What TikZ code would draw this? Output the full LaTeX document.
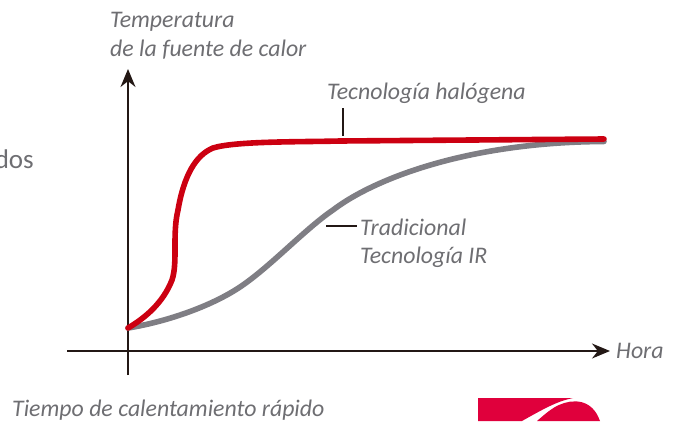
\documentclass[tikz,border=0pt]{standalone}
\usepackage{fontspec}
\setmainfont{Carlito}
\usetikzlibrary{arrows.meta}
\definecolor{axisc}{HTML}{231815}
\definecolor{txtc}{HTML}{6E6E72}
\definecolor{redc}{HTML}{CC0011}
\definecolor{grayc}{HTML}{7F7E84}
\definecolor{logoc}{HTML}{E0003C}
\tikzset{
 lab/.style={anchor=base west,inner sep=0pt,font=\fontsize{23.8}{28}\selectfont\itshape,text=txtc},
 axisl/.style={draw=axisc,line width=1.3pt},
 leader/.style={draw=axisc,line width=1.3pt},
 curve/.style={line width=5.6pt,line cap=round,line join=round}
}
\begin{document}
\begin{tikzpicture}[x=1pt,y=-1pt]
\useasboundingbox (0,0) rectangle (678,421);
\clip (0,0) rectangle (678,421);
% axes
\coordinate (ytop) at (128,69);
\coordinate (ybot) at (128,375);
\coordinate (xleft) at (67,351);
\coordinate (xright) at (610,351);
\draw[axisl,-{Stealth[length=18pt,width=15pt]}] (ybot) -- (ytop);
\draw[axisl,-{Stealth[length=18pt,width=15pt]}] (xleft) -- (xright);
% curves
\coordinate (o) at (128,328);
\coordinate (grayend) at (604,141.5);
\coordinate (redend) at (604,139);
\draw[curve,grayc] (o) .. controls (165,322) and (210,307) .. (240,287)
  .. controls (270,267) and (305,229) .. (333,210)
  .. controls (375,178) and (470,142) .. (grayend);
\draw[curve,redc] (o) .. controls (145,318) and (163,303) .. (172,280)
  .. controls (178,262) and (172,235) .. (178,210)
  .. controls (184,175) and (196,155) .. (213,148)
  .. controls (235,141) and (300,142) .. (340,141)
  -- (redend);
% leaders
\coordinate (l1a) at (343,108);
\coordinate (l1b) at (343,136);
\coordinate (l2a) at (326,226);
\coordinate (l2b) at (357,226);
\draw[leader] (l1a) -- (l1b);
\draw[leader] (l2a) -- (l2b);
% labels
\node[lab] (t1) at (110,27) {Temperatura};
\node[lab] (t2) at (110,56) {de la fuente de calor};
\node[lab] (t3) at (327,99) {Tecnología halógena};
\node[lab] (t4) at (360,235) {Tradicional};
\node[lab] (t5) at (360,263) {Tecnología IR};
\node[lab] (t6) at (616,358) {Hora};
\node[lab] (t7) at (12,416) {Tiempo de calentamiento rápido};
\node[anchor=base east,inner sep=0pt,font=\fontsize{27}{32}\selectfont,text=txtc] (t8) at (34,168) {dos};
% logo fragment
\fill[logoc] (478,398) -- (573,398) .. controls (558,401) and (545,408) .. (522,421) -- (478,421) -- cycle;
\fill[logoc] (537,421) .. controls (545,414) and (552,408) .. (559,405) .. controls (572,399) and (592,398) .. (600,421) -- cycle;
\end{tikzpicture}
\end{document}
